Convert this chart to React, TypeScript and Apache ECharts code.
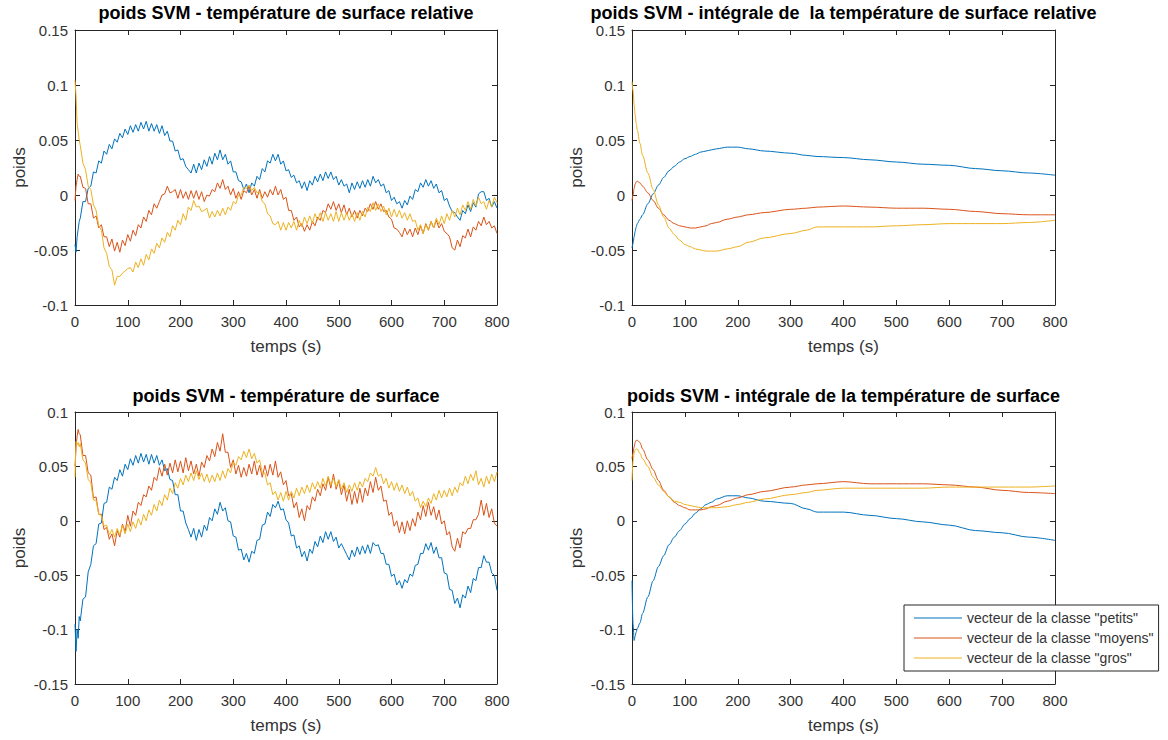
import React, { useEffect, useRef } from "react";
import * as echarts from "echarts";

// ---------------- data ----------------
const SERIES_NAMES = [
  'vecteur de la classe "petits"',
  'vecteur de la classe "moyens"',
  'vecteur de la classe "gros"',
];
const COLORS = ["#0072BD", "#D95319", "#EDB120"];

const TITLES = [
  "poids SVM - température de surface relative",
  "poids SVM - intégrale de  la température de surface relative",
  "poids SVM - température de surface",
  "poids SVM - intégrale de la température de surface",
];

const X_LABEL = "temps (s)";
const Y_LABEL = "poids";

// sampling grid (s) of the noisy recordings: 0,2,4,6,8 then every 5 s
const noisyTimes: number[] = [0, 2, 4, 6, 8];
for (let t = 10; t <= 800; t += 5) noisyTimes.push(t);

// sampling grid (s) of the integrated (smooth) curves
const smoothTimes = [
  0, 2, 4, 6, 8, 10, 15, 20, 30, 40, 50, 60, 70, 80, 90, 100, 110, 120, 130,
  140, 150, 160, 180, 200, 220, 250, 300, 330, 350, 400, 450, 500, 550, 600,
  650, 700, 750, 800,
];

// top-left: relative surface temperature
const TL_PETITS = [
  -0.045, -0.052, -0.038, -0.031, -0.024,
  -0.021, -0.006, -0.006, 0.006, 0.008, 0.021, 0.020, 0.031, 0.029, 0.040,
  0.037, 0.046, 0.042, 0.051, 0.048, 0.056, 0.052, 0.060, 0.055, 0.063,
  0.057, 0.064, 0.058, 0.066, 0.060, 0.067, 0.058, 0.065, 0.058, 0.064,
  0.056, 0.063, 0.054, 0.058, 0.049, 0.049, 0.040, 0.041, 0.032, 0.033,
  0.026, 0.023, 0.020, 0.028, 0.020, 0.029, 0.023, 0.032, 0.026, 0.035,
  0.028, 0.038, 0.032, 0.041, 0.032, 0.037, 0.028, 0.031, 0.021, 0.021,
  0.013, 0.012, 0.005, 0.010, 0.002, 0.011, 0.008, 0.017, 0.014, 0.024,
  0.021, 0.031, 0.029, 0.037, 0.031, 0.037, 0.028, 0.031, 0.022, 0.023,
  0.016, 0.018, 0.011, 0.013, 0.006, 0.012, 0.004, 0.013, 0.009, 0.017,
  0.012, 0.019, 0.013, 0.021, 0.015, 0.021, 0.014, 0.017, 0.009, 0.014,
  0.008, 0.010, 0.002, 0.011, 0.005, 0.012, 0.006, 0.013, 0.007, 0.014,
  0.008, 0.017, 0.011, 0.014, 0.008, 0.010, 0.002, 0.004, -0.005, -0.002,
  -0.008, -0.006, -0.012, -0.005, -0.009, -0.001, -0.004, 0.005, 0.003, 0.011,
  0.007, 0.014, 0.008, 0.013, 0.006, 0.010, 0.002, 0.004, -0.005, -0.003,
  -0.010, -0.015, -0.016, -0.020, -0.023, -0.014, -0.017, -0.009, -0.015, -0.007,
  -0.011, 0.001, 0.003, 0.003, -0.005, -0.003, -0.011, -0.006, -0.012,
];
const TL_MOYENS = [
  -0.005, 0.008, 0.014, 0.019, 0.017,
  0.017, 0.007, 0.006, -0.008, -0.008, -0.021, -0.019, -0.030, -0.027, -0.038,
  -0.038, -0.047, -0.040, -0.051, -0.043, -0.052, -0.041, -0.046, -0.036, -0.042,
  -0.032, -0.037, -0.027, -0.030, -0.020, -0.024, -0.014, -0.018, -0.008, -0.012,
  -0.006, 0.000, 0.001, 0.008, 0.002, 0.003, 0.005, -0.003, 0.005, -0.003,
  0.003, -0.004, 0.004, -0.003, 0.004, -0.004, 0.003, -0.006, 0.000, -0.001,
  0.005, 0.003, 0.011, 0.006, 0.014, 0.005, 0.008, 0.000, 0.006, -0.003,
  0.003, -0.004, 0.004, 0.002, 0.008, 0.000, 0.005, -0.003, 0.005, -0.003,
  0.003, -0.002, 0.005, 0.000, 0.008, 0.000, 0.005, -0.004, -0.002, -0.014,
  -0.014, -0.023, -0.020, -0.029, -0.026, -0.033, -0.027, -0.032, -0.024, -0.028,
  -0.020, -0.023, -0.014, -0.016, -0.008, -0.013, -0.006, -0.014, -0.008, -0.016,
  -0.009, -0.018, -0.012, -0.020, -0.014, -0.021, -0.014, -0.019, -0.012, -0.015,
  -0.008, -0.013, -0.006, -0.013, -0.008, -0.015, -0.014, -0.020, -0.022, -0.030,
  -0.031, -0.034, -0.038, -0.030, -0.036, -0.031, -0.038, -0.030, -0.036, -0.028,
  -0.035, -0.026, -0.032, -0.024, -0.030, -0.023, -0.030, -0.026, -0.033, -0.035,
  -0.038, -0.048, -0.050, -0.041, -0.047, -0.037, -0.039, -0.031, -0.038, -0.029,
  -0.032, -0.024, -0.028, -0.020, -0.027, -0.024, -0.030, -0.028, -0.035,
];
const TL_GROS = [
  0.104, 0.090, 0.065, 0.058, 0.050,
  0.045, 0.029, 0.023, 0.008, 0.005, -0.009, -0.014, -0.028, -0.032, -0.048,
  -0.053, -0.065, -0.068, -0.082, -0.074, -0.074, -0.071, -0.069, -0.067, -0.066,
  -0.070, -0.061, -0.066, -0.058, -0.064, -0.054, -0.059, -0.049, -0.053, -0.044,
  -0.048, -0.039, -0.043, -0.034, -0.038, -0.028, -0.032, -0.023, -0.027, -0.017,
  -0.023, -0.011, -0.014, -0.005, -0.011, -0.010, -0.015, -0.014, -0.012, -0.021,
  -0.015, -0.020, -0.014, -0.019, -0.012, -0.018, -0.011, -0.014, -0.006, -0.008,
  0.000, 0.000, 0.007, 0.006, 0.009, 0.004, 0.007, 0.002, 0.003, -0.006,
  -0.008, -0.017, -0.019, -0.026, -0.027, -0.024, -0.032, -0.025, -0.032, -0.025,
  -0.030, -0.024, -0.032, -0.023, -0.029, -0.020, -0.026, -0.019, -0.026, -0.017,
  -0.023, -0.016, -0.024, -0.016, -0.023, -0.017, -0.024, -0.015, -0.024, -0.016,
  -0.023, -0.016, -0.023, -0.017, -0.024, -0.016, -0.023, -0.015, -0.020, -0.011,
  -0.015, -0.007, -0.014, -0.008, -0.015, -0.010, -0.018, -0.012, -0.020, -0.013,
  -0.020, -0.014, -0.021, -0.016, -0.023, -0.017, -0.024, -0.023, -0.032, -0.027,
  -0.035, -0.027, -0.032, -0.024, -0.030, -0.021, -0.027, -0.019, -0.026, -0.017,
  -0.023, -0.014, -0.020, -0.012, -0.018, -0.009, -0.014, -0.006, -0.013, -0.004,
  -0.010, -0.002, -0.008, -0.006, -0.013, -0.005, -0.011, -0.002, -0.007,
];

// top-right: integral of relative surface temperature
const TR_PETITS = [
  -0.048, -0.044, -0.038, -0.033, -0.029, -0.026, -0.022, -0.018,
  -0.008, 0.001, 0.009, 0.016, 0.022, 0.026, 0.030, 0.033,
  0.035, 0.037, 0.039, 0.040, 0.041, 0.042,
  0.0435, 0.0435, 0.042, 0.040,
  0.038, 0.036, 0.035,
  0.034, 0.032, 0.030, 0.028, 0.027, 0.024, 0.022, 0.020, 0.018,
];
const TR_MOYENS = [
  -0.005, 0.000, 0.006, 0.010, 0.012, 0.0125, 0.011, 0.008,
  0.002, -0.005, -0.012, -0.018, -0.023, -0.026, -0.028, -0.029,
  -0.030, -0.030, -0.029, -0.028, -0.026, -0.025,
  -0.022, -0.020, -0.018, -0.016,
  -0.013, -0.012, -0.011,
  -0.010, -0.011, -0.012, -0.012, -0.013, -0.015, -0.017, -0.018, -0.018,
];
const TR_GROS = [
  0.103, 0.095, 0.082, 0.073, 0.065, 0.059, 0.047, 0.036,
  0.020, 0.005, -0.009, -0.020, -0.030, -0.036, -0.041, -0.045,
  -0.047, -0.049, -0.050, -0.051, -0.051, -0.051,
  -0.049, -0.047, -0.043, -0.039,
  -0.035, -0.032, -0.029,
  -0.029, -0.029, -0.028, -0.027, -0.026, -0.026, -0.026, -0.025, -0.023,
];

// bottom-left: surface temperature
const BL_PETITS = [
  -0.095, -0.120, -0.100, -0.108, -0.088,
  -0.092, -0.072, -0.070, -0.047, -0.040, -0.023, -0.021, -0.003, -0.002, 0.016,
  0.017, 0.031, 0.029, 0.040, 0.037, 0.047, 0.041, 0.052, 0.047, 0.057,
  0.051, 0.060, 0.053, 0.062, 0.054, 0.061, 0.052, 0.061, 0.053, 0.060,
  0.051, 0.056, 0.046, 0.048, 0.038, 0.037, 0.024, 0.024, 0.009, 0.009,
  -0.002, -0.008, -0.015, -0.007, -0.018, -0.008, -0.015, -0.004, -0.009, 0.003,
  0.000, 0.011, 0.006, 0.017, 0.009, 0.012, 0.000, -0.001, -0.014, -0.015,
  -0.027, -0.026, -0.036, -0.030, -0.038, -0.028, -0.030, -0.018, -0.017, -0.004,
  -0.003, 0.008, 0.004, 0.015, 0.012, 0.018, 0.010, 0.011, 0.001, -0.002,
  -0.014, -0.013, -0.025, -0.023, -0.033, -0.028, -0.037, -0.026, -0.030, -0.019,
  -0.024, -0.014, -0.020, -0.010, -0.017, -0.010, -0.019, -0.015, -0.025, -0.021,
  -0.026, -0.031, -0.036, -0.027, -0.033, -0.024, -0.031, -0.023, -0.030, -0.022,
  -0.030, -0.020, -0.023, -0.022, -0.030, -0.030, -0.040, -0.040, -0.051, -0.049,
  -0.059, -0.055, -0.062, -0.054, -0.057, -0.049, -0.051, -0.041, -0.040, -0.030,
  -0.030, -0.021, -0.027, -0.020, -0.030, -0.024, -0.034, -0.034, -0.048, -0.049,
  -0.063, -0.064, -0.076, -0.071, -0.080, -0.068, -0.071, -0.060, -0.066, -0.053,
  -0.055, -0.043, -0.043, -0.032, -0.038, -0.038, -0.048, -0.050, -0.064,
];
const BL_MOYENS = [
  0.050, 0.068, 0.078, 0.084, 0.080,
  0.079, 0.060, 0.060, 0.044, 0.042, 0.021, 0.022, 0.006, 0.006, -0.008,
  -0.006, -0.017, -0.012, -0.023, -0.009, -0.015, -0.003, -0.010, 0.005, -0.005,
  0.009, 0.005, 0.017, 0.014, 0.024, 0.022, 0.032, 0.028, 0.040, 0.037,
  0.049, 0.041, 0.052, 0.042, 0.053, 0.044, 0.056, 0.045, 0.055, 0.044,
  0.058, 0.046, 0.055, 0.043, 0.052, 0.041, 0.054, 0.049, 0.060, 0.055,
  0.066, 0.059, 0.072, 0.064, 0.080, 0.063, 0.063, 0.049, 0.056, 0.043,
  0.051, 0.040, 0.049, 0.041, 0.052, 0.043, 0.055, 0.042, 0.051, 0.040,
  0.051, 0.041, 0.052, 0.042, 0.055, 0.040, 0.045, 0.033, 0.037, 0.023,
  0.025, 0.012, 0.017, 0.003, 0.011, 0.000, 0.014, 0.010, 0.022, 0.018,
  0.029, 0.023, 0.034, 0.028, 0.040, 0.030, 0.043, 0.029, 0.037, 0.024,
  0.033, 0.018, 0.029, 0.015, 0.027, 0.016, 0.030, 0.017, 0.030, 0.023,
  0.036, 0.026, 0.040, 0.028, 0.032, 0.018, 0.019, 0.005, 0.008, -0.005,
  0.000, -0.011, -0.001, -0.012, 0.000, -0.009, 0.002, -0.005, 0.008, 0.001,
  0.014, 0.004, 0.017, 0.005, 0.013, 0.001, 0.010, -0.003, 0.000, -0.013,
  -0.010, -0.024, -0.028, -0.016, -0.025, -0.010, -0.012, -0.007, -0.007, 0.001,
  0.001, 0.006, 0.019, 0.005, 0.016, 0.003, 0.011, -0.002, -0.005,
];
const BL_GROS = [
  0.040, 0.073, 0.070, 0.072, 0.068,
  0.071, 0.056, 0.053, 0.038, 0.035, 0.019, 0.019, 0.006, 0.005, -0.005,
  -0.004, -0.013, -0.008, -0.015, -0.007, -0.013, -0.004, -0.012, -0.003, -0.010,
  -0.001, -0.007, 0.002, -0.004, 0.006, 0.000, 0.010, 0.005, 0.015, 0.009,
  0.019, 0.014, 0.024, 0.019, 0.030, 0.025, 0.035, 0.030, 0.039, 0.033,
  0.042, 0.036, 0.044, 0.037, 0.046, 0.038, 0.044, 0.036, 0.043, 0.035,
  0.042, 0.036, 0.044, 0.037, 0.046, 0.039, 0.048, 0.044, 0.054, 0.051,
  0.059, 0.056, 0.064, 0.058, 0.066, 0.057, 0.062, 0.053, 0.056, 0.044,
  0.044, 0.033, 0.035, 0.024, 0.027, 0.019, 0.026, 0.018, 0.027, 0.019,
  0.027, 0.021, 0.030, 0.023, 0.031, 0.025, 0.033, 0.026, 0.035, 0.029,
  0.036, 0.030, 0.039, 0.032, 0.041, 0.033, 0.039, 0.031, 0.038, 0.029,
  0.035, 0.026, 0.033, 0.027, 0.035, 0.028, 0.036, 0.031, 0.039, 0.036,
  0.044, 0.041, 0.049, 0.041, 0.043, 0.034, 0.039, 0.030, 0.036, 0.028,
  0.035, 0.027, 0.033, 0.025, 0.031, 0.023, 0.027, 0.018, 0.021, 0.012,
  0.018, 0.013, 0.021, 0.016, 0.025, 0.019, 0.028, 0.021, 0.028, 0.022,
  0.030, 0.023, 0.031, 0.026, 0.035, 0.032, 0.041, 0.034, 0.043, 0.037,
  0.046, 0.033, 0.039, 0.031, 0.041, 0.034, 0.043, 0.036, 0.045,
];

// bottom-right: integral of surface temperature
const BR_PETITS = [
  -0.055, -0.095, -0.110, -0.106, -0.102, -0.099, -0.094, -0.085,
  -0.070, -0.055, -0.042, -0.032, -0.022, -0.015, -0.009, -0.003,
  0.002, 0.007, 0.011, 0.015, 0.017, 0.020,
  0.023, 0.023, 0.021, 0.018,
  0.016, 0.011, 0.008,
  0.008, 0.005, 0.002, -0.001, -0.004, -0.009, -0.011, -0.015, -0.018,
];
const BR_MOYENS = [
  0.057, 0.062, 0.068, 0.072, 0.074, 0.074, 0.072, 0.066,
  0.056, 0.047, 0.037, 0.028, 0.022, 0.017, 0.014, 0.012,
  0.010, 0.010, 0.010, 0.011, 0.013, 0.014,
  0.018, 0.021, 0.024, 0.027,
  0.031, 0.033, 0.034,
  0.036, 0.034, 0.034, 0.034, 0.033, 0.031, 0.028, 0.026, 0.025,
];
const BR_GROS = [
  0.037, 0.055, 0.062, 0.065, 0.066, 0.066, 0.062, 0.057,
  0.050, 0.040, 0.033, 0.027, 0.022, 0.018, 0.017, 0.015,
  0.014, 0.013, 0.012, 0.012, 0.012, 0.012,
  0.013, 0.015, 0.017, 0.020,
  0.024, 0.026, 0.028,
  0.030, 0.030, 0.030, 0.030, 0.031, 0.031, 0.031, 0.031, 0.032,
];

const Y_RANGE_TOP = [-0.1, 0.15];
const Y_RANGE_BOTTOM = [-0.15, 0.1];
const X_RANGE = [0, 800];

// ---------------- layout / style ----------------
const FONT = '"Liberation Sans", Arial, Helvetica, sans-serif';
const AXIS_COLOR = "#262626";
const TEXT_COLOR = "#333333";
// a thin horizontal bar (legend line sample), padded to a 48x14 box by two invisible specks
const LEGEND_LINE_ICON =
  "path://M0,0L0.01,0L0,0.01Z M0,6.4L48,6.4L48,7.6L0,7.6Z M48,14L47.99,14L48,13.99Z";

const PANELS = [
  { title: TITLES[0], times: noisyTimes, series: [TL_PETITS, TL_MOYENS, TL_GROS], yr: Y_RANGE_TOP, smooth: false,
    left: 75, top: 30, width: 422, height: 275, titleTop: 4 },
  { title: TITLES[1], times: smoothTimes, series: [TR_PETITS, TR_MOYENS, TR_GROS], yr: Y_RANGE_TOP, smooth: true,
    left: 632, top: 30, width: 423, height: 275, titleTop: 4 },
  { title: TITLES[2], times: noisyTimes, series: [BL_PETITS, BL_MOYENS, BL_GROS], yr: Y_RANGE_BOTTOM, smooth: false,
    left: 75, top: 412, width: 422, height: 272, titleTop: 387 },
  { title: TITLES[3], times: smoothTimes, series: [BR_PETITS, BR_MOYENS, BR_GROS], yr: Y_RANGE_BOTTOM, smooth: true,
    left: 632, top: 412, width: 423, height: 272, titleTop: 387 },
];

function fmt(v: number) {
  return String(parseFloat(v.toFixed(2)));
}

function buildOption() {
  const grid: any[] = [];
  const xAxis: any[] = [];
  const yAxis: any[] = [];
  const series: any[] = [];
  const title: any[] = [];

  const line = { show: true, onZero: false, lineStyle: { color: AXIS_COLOR, width: 1 } };
  const tick = { show: true, inside: true, length: 5, lineStyle: { color: AXIS_COLOR, width: 1 } };

  PANELS.forEach((p, i) => {
    grid.push({ left: p.left, top: p.top, width: p.width, height: p.height, containLabel: false });
    title.push({
      text: p.title,
      left: p.left + p.width / 2,
      top: p.titleTop,
      textAlign: "center",
      padding: 0,
      textStyle: { fontSize: 18, fontWeight: "bold", color: "#000", fontFamily: FONT },
    });
    const xBase = { type: "value", gridIndex: i, min: X_RANGE[0], max: X_RANGE[1], interval: 100,
      axisLine: line, axisTick: tick, splitLine: { show: false } };
    xAxis.push({
      ...xBase, position: "bottom",
      axisLabel: { show: true, margin: 9, color: TEXT_COLOR, fontSize: 15, fontFamily: FONT },
      name: X_LABEL, nameLocation: "middle", nameGap: 33,
      nameTextStyle: { fontSize: 17, color: TEXT_COLOR, fontFamily: FONT },
    });
    xAxis.push({ ...xBase, position: "top", axisLabel: { show: false } });
    const yBase = { type: "value", gridIndex: i, min: p.yr[0], max: p.yr[1], interval: 0.05,
      axisLine: line, axisTick: tick, splitLine: { show: false } };
    yAxis.push({
      ...yBase, position: "left",
      axisLabel: { show: true, margin: 7, color: TEXT_COLOR, fontSize: 15, fontFamily: FONT, formatter: fmt },
      name: Y_LABEL, nameLocation: "middle", nameGap: 47, nameRotate: 90,
      nameTextStyle: { fontSize: 17, color: TEXT_COLOR, fontFamily: FONT },
    });
    yAxis.push({ ...yBase, position: "right", axisLabel: { show: false } });

    p.series.forEach((vals, k) => {
      series.push({
        type: "line",
        name: SERIES_NAMES[k],
        xAxisIndex: 2 * i,
        yAxisIndex: 2 * i,
        data: vals.map((v, j) => [p.times[j], v]),
        symbol: "none",
        showSymbol: false,
        smooth: p.smooth ? 0.3 : false,
        smoothMonotone: p.smooth ? "x" : undefined,
        silent: true,
        lineStyle: { color: COLORS[k], width: 1 },
        itemStyle: { color: COLORS[k] },
      });
    });
  });

  return {
    animation: false,
    backgroundColor: "#ffffff",
    title,
    grid,
    xAxis,
    yAxis,
    series,
    legend: {
      show: true,
      data: SERIES_NAMES.map((name) => ({ name, icon: LEGEND_LINE_ICON })),
      orient: "vertical",
      left: 904,
      top: 605,
      itemWidth: 48,
      itemHeight: 14,
      itemGap: 6,
      padding: [6, 5, 6, 10],
      backgroundColor: "#ffffff",
      borderColor: AXIS_COLOR,
      borderWidth: 1,
      borderRadius: 0,
      selectedMode: false,
      itemStyle: { borderWidth: 0 },
      textStyle: { fontSize: 14, color: TEXT_COLOR, fontFamily: FONT, lineHeight: 14 },
    },
  };
}

export default function App() {
  const ref = useRef<HTMLDivElement>(null);
  useEffect(() => {
    if (!ref.current) return;
    const chart = echarts.init(ref.current, undefined, { renderer: "svg" });
    chart.setOption(buildOption() as any);
    return () => chart.dispose();
  }, []);
  return (
    <div
      ref={ref}
      style={{ position: "absolute", left: 0, top: 0, width: 1168, height: 740, background: "#fff" }}
    />
  );
}
